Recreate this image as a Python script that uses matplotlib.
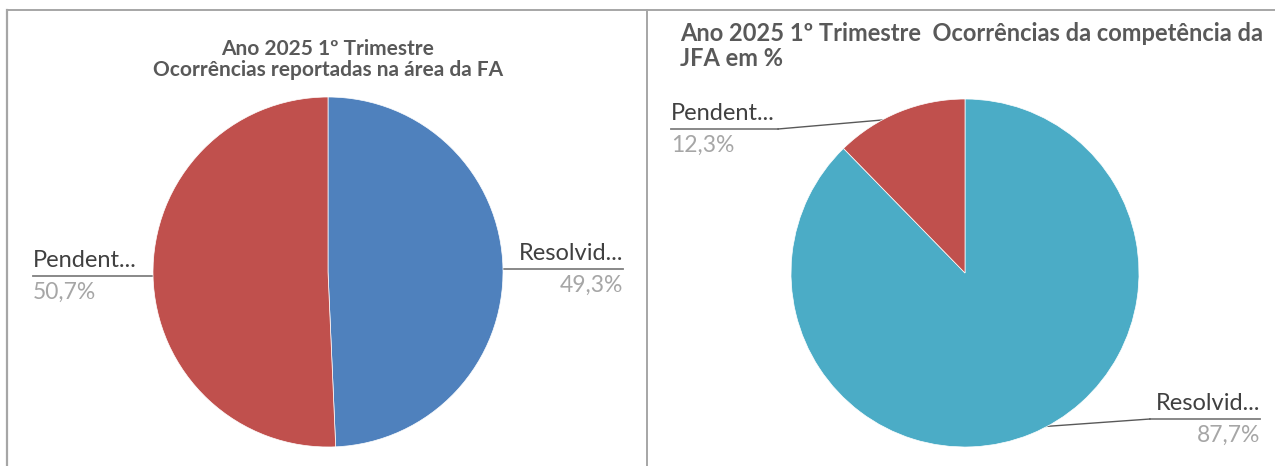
import matplotlib.pyplot as plt
import numpy as np

# dados
categorias = ['Resolvido', 'Pendente']
rotulos_curtos = ['Resolvid...', 'Pendent...']
valores_fa = [49.3, 50.7]
valores_jfa = [87.7, 12.3]
cores_fa = ['#4F81BD', '#C0504D']
cores_jfa = ['#4BACC6', '#C0504D']
titulo_fa = ['Ano 2025 1º Trimestre', 'Ocorrências reportadas na área da FA']
titulo_jfa = ['Ano 2025 1º Trimestre  Ocorrências da competência da', 'JFA em %']

W, H = 1275, 466
plt.rcParams['font.family'] = ['Lato', 'DejaVu Sans']

fig = plt.figure(figsize=(W / 100, H / 100), dpi=100)
bg = fig.add_axes([0, 0, 1, 1])
bg.set_xlim(0, W)
bg.set_ylim(H, 0)
bg.axis('off')

# bordas da folha / dos gráficos
frame = '#a6a6a6'
bg.plot([7, W], [9.5, 9.5], color=frame, lw=1.4)
bg.plot([7, 7], [9.5, H], color=frame, lw=1.6)
bg.plot([647, 647], [9.5, H], color=frame, lw=1.4)


def pie_axes(cx, cy, r):
    ax = fig.add_axes([(cx - r) / W, (H - cy - r) / H, 2 * r / W, 2 * r / H])
    return ax


def to_bg(ax, x, y):
    p = ax.transData.transform((x, y))
    return bg.transData.inverted().transform(p)


def draw_pie(ax, valores, cores):
    wedges, _ = ax.pie(valores, colors=cores, startangle=90, counterclock=False,
                       radius=1, wedgeprops=dict(edgecolor='white', linewidth=0.5))
    ax.set_xlim(-1, 1)
    ax.set_ylim(-1, 1)
    ax.set_aspect('equal')
    ax.axis('off')
    dots = []
    for w in wedges:
        a = np.deg2rad((w.theta1 + w.theta2) / 2)
        dots.append(to_bg(ax, 0.96 * np.cos(a), 0.96 * np.sin(a)))
    return dots


def label(dot, texto, valor, x_txt, y_base, side, bend=None):
    # side: 'left' -> texto à esquerda do ponto; 'right' -> à direita
    lc = '#7f7f7f'
    uy = y_base + 9
    x_end = bend if bend else dot[0]
    if side == 'left':
        ha = 'left'
        bg.plot([x_txt, x_end], [uy, uy], color=lc, lw=1.3)
    else:
        ha = 'right'
        bg.plot([x_end, x_txt], [uy, uy], color=lc, lw=1.3)
    bg.plot([x_end, dot[0]], [uy, dot[1]], color='#595959', lw=1.0)
    bg.plot(dot[0], dot[1], 'o', color='#a6a6a6', ms=5, zorder=5)
    bg.text(x_txt, y_base, texto, ha=ha, va='baseline', fontsize=17, color='#404040')
    pct = f'{valor:.1f}%'.replace('.', ',')
    bg.text(x_txt, uy + 6, pct, ha=ha, va='top', fontsize=16.5, color='#a6a6a6')


# gráfico da esquerda
ax1 = pie_axes(328, 272, 175)
d1 = draw_pie(ax1, valores_fa, cores_fa)
bg.text(328, 55, titulo_fa[0], ha='center', va='baseline', fontsize=15,
        fontweight='bold', color='#595959')
bg.text(328, 76, titulo_fa[1], ha='center', va='baseline', fontsize=15,
        fontweight='bold', color='#595959')
label(d1[0], rotulos_curtos[0], valores_fa[0], 623, 260, 'right')
label(d1[1], rotulos_curtos[1], valores_fa[1], 33, 267, 'left')

# gráfico da direita
ax2 = pie_axes(965, 273, 174)
d2 = draw_pie(ax2, valores_jfa, cores_jfa)
bg.text(680, 41, titulo_jfa[0], ha='left', va='baseline', fontsize=17,
        fontweight='bold', color='#595959')
bg.text(680, 66, titulo_jfa[1], ha='left', va='baseline', fontsize=17,
        fontweight='bold', color='#595959')
label(d2[0], rotulos_curtos[0], valores_jfa[0], 1260, 410, 'right', bend=1150)
label(d2[1], rotulos_curtos[1], valores_jfa[1], 671, 120, 'left', bend=778)

fig.savefig('out.png', dpi=100)
